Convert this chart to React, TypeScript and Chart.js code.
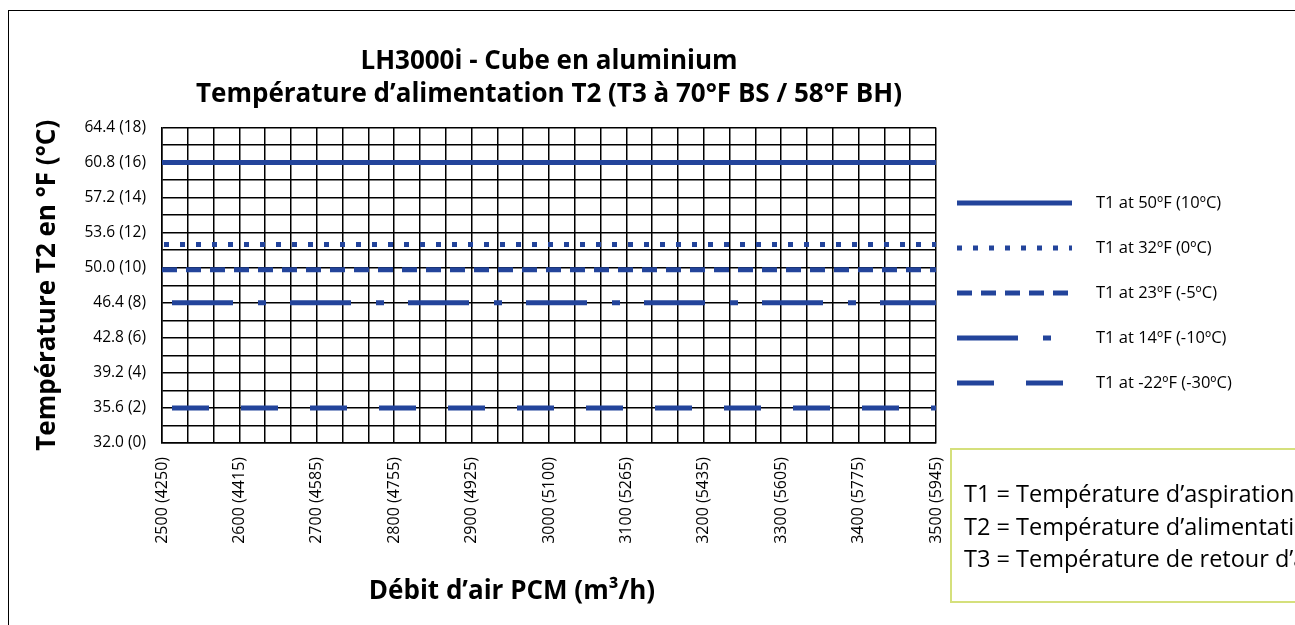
import React, { useEffect, useRef } from 'react';
import { Chart, registerables } from 'chart.js';

Chart.register(...registerables);

const FONT = "'Open Sans', 'Noto Sans', sans-serif";

// Airflow (CFM) categories and their m³/h tick labels
const airflowCfm = [2500, 2600, 2700, 2800, 2900, 3000, 3100, 3200, 3300, 3400, 3500];
const xTickLabels = [
  '2500 (4250)', '2600 (4415)', '2700 (4585)', '2800 (4755)', '2900 (4925)', '3000 (5100)',
  '3100 (5265)', '3200 (5435)', '3300 (5605)', '3400 (5775)', '3500 (5945)',
];

// Y axis ticks: °F (°C)
const yTickValues = [32.0, 35.6, 39.2, 42.8, 46.4, 50.0, 53.6, 57.2, 60.8, 64.4];
const yTickLabels = [
  '32.0 (0)', '35.6 (2)', '39.2 (4)', '42.8 (6)', '46.4 (8)',
  '50.0 (10)', '53.6 (12)', '57.2 (14)', '60.8 (16)', '64.4 (18)',
];

// Supply temperature T2 (°F) per airflow, for each T1
const t1At50F = [60.8, 60.8, 60.8, 60.8, 60.8, 60.8, 60.8, 60.8, 60.8, 60.8, 60.8];
const t1At32F = [52.4, 52.4, 52.4, 52.4, 52.4, 52.4, 52.4, 52.4, 52.4, 52.4, 52.4];
const t1At23F = [49.8, 49.8, 49.8, 49.8, 49.8, 49.8, 49.8, 49.8, 49.8, 49.8, 49.8];
const t1At14F = [46.4, 46.4, 46.4, 46.4, 46.4, 46.4, 46.4, 46.4, 46.4, 46.4, 46.4];
const t1AtMinus22F = [35.6, 35.6, 35.6, 35.6, 35.6, 35.6, 35.6, 35.6, 35.6, 35.6, 35.6];

const seriesLabels = [
  'T1 at 50ºF (10ºC)',
  'T1 at 32ºF (0ºC)',
  'T1 at 23ºF (-5ºC)',
  'T1 at 14ºF (-10ºC)',
  'T1 at -22ºF (-30ºC)',
];

const titleLines = ['LH3000i - Cube en aluminium', 'Température d’alimentation T2 (T3 à 70°F BS / 58°F BH)'];
const yAxisTitle = 'Température T2 en °F (°C)';
const xAxisTitle = 'Débit d’air PCM (m³/h)';
const noteLines = [
  'T1 = Température d’aspiration',
  'T2 = Température d’alimentation',
  'T3 = Température de retour d’air',
];

const LINE_COLOR = '#23449b';

const toPoints = (vals: number[]) => airflowCfm.map((x, i) => ({ x, y: vals[i] }));

const sideLegendPlugin = {
  id: 'sideLegendAndXTitle',
  afterDraw(chart: any) {
    const { ctx, chartArea } = chart;
    ctx.save();
    const x0 = chartArea.right + 21;
    const len = 115;
    const y0 = chartArea.top + 75.5;
    const dy = 45;
    chart.data.datasets.forEach((ds: any, i: number) => {
      const y = y0 + i * dy;
      ctx.beginPath();
      ctx.setLineDash(ds.borderDash || []);
      ctx.lineDashOffset = 0;
      ctx.lineWidth = ds.borderWidth;
      ctx.strokeStyle = ds.borderColor;
      ctx.lineCap = 'butt';
      ctx.moveTo(x0, y);
      ctx.lineTo(x0 + len, y);
      ctx.stroke();
      ctx.setLineDash([]);
      ctx.fillStyle = '#000';
      ctx.font = `16.5px ${FONT}`;
      ctx.textAlign = 'left';
      ctx.textBaseline = 'middle';
      ctx.fillText(ds.label, x0 + len + 24, y);
    });
    ctx.font = `bold 26px ${FONT}`;
    ctx.textAlign = 'center';
    ctx.textBaseline = 'middle';
    ctx.fillStyle = '#000';
    ctx.fillText(xAxisTitle, chartArea.left + 350, chartArea.bottom + 149);
    ctx.restore();
  },
};

export default function App() {
  const canvasRef = useRef<HTMLCanvasElement | null>(null);

  useEffect(() => {
    document.documentElement.style.overflow = 'hidden';
    const canvas = canvasRef.current;
    if (!canvas) return;
    Chart.defaults.color = '#000';
    Chart.defaults.font.family = FONT;

    const mk = (label: string, vals: number[], dash: number[], offset: number) => ({
      label,
      data: toPoints(vals),
      borderColor: LINE_COLOR,
      backgroundColor: LINE_COLOR,
      borderWidth: 5,
      borderDash: dash,
      borderDashOffset: offset,
      borderCapStyle: 'butt',
      pointRadius: 0,
      pointHoverRadius: 0,
      fill: false,
      tension: 0,
    });

    const chart = new Chart(canvas, {
      type: 'line',
      data: {
        datasets: [
          mk(seriesLabels[0], t1At50F, [], 0),
          mk(seriesLabels[1], t1At32F, [5, 11], 14),
          mk(seriesLabels[2], t1At23F, [15, 9], 0),
          mk(seriesLabels[3], t1At14F, [61, 25, 8, 24], 108),
          mk(seriesLabels[4], t1AtMinus22F, [37, 32], 59),
        ] as any,
      },
      options: {
        animation: false,
        responsive: true,
        maintainAspectRatio: false,
        devicePixelRatio: 1,
        layout: { padding: { left: 0, right: 373, top: 0, bottom: 18 } },
        plugins: {
          legend: { display: false },
          tooltip: { enabled: false },
          title: {
            display: true,
            text: titleLines,
            fullSize: false,
            color: '#000',
            font: { family: FONT, size: 26, weight: 'bold', lineHeight: 1.27 },
            padding: { top: 34, bottom: 16.5 },
          },
        },
        scales: {
          x: {
            type: 'linear',
            min: airflowCfm[0],
            max: airflowCfm[airflowCfm.length - 1],
            afterBuildTicks: (scale: any) => {
              const ticks: any[] = [];
              for (let i = 0; i < airflowCfm.length - 1; i++) {
                const a = airflowCfm[i];
                const d = airflowCfm[i + 1] - a;
                ticks.push({ value: a }, { value: a + d / 3 }, { value: a + (2 * d) / 3 });
              }
              ticks.push({ value: airflowCfm[airflowCfm.length - 1] });
              scale.ticks = ticks;
            },
            afterFit: (scale: any) => {
              scale.height = 170;
            },
            ticks: {
              autoSkip: false,
              minRotation: 90,
              maxRotation: 90,
              padding: 14,
              color: '#000',
              font: { family: FONT, size: 16 },
              callback: (value: any) => {
                const idx = airflowCfm.indexOf(value);
                return idx >= 0 ? xTickLabels[idx] : '';
              },
            },
            grid: { color: '#000', lineWidth: 1.5, drawTicks: false },
            border: { display: true, color: '#000', width: 1.5 },
          },
          y: {
            type: 'linear',
            min: yTickValues[0],
            max: yTickValues[yTickValues.length - 1],
            afterBuildTicks: (scale: any) => {
              const ticks: any[] = [];
              for (let i = 0; i < yTickValues.length - 1; i++) {
                const a = yTickValues[i];
                const b = yTickValues[i + 1];
                ticks.push({ value: a }, { value: (a + b) / 2 });
              }
              ticks.push({ value: yTickValues[yTickValues.length - 1] });
              scale.ticks = ticks;
            },
            afterFit: (scale: any) => {
              scale.width = 153;
            },
            ticks: {
              autoSkip: false,
              padding: 16,
              color: '#000',
              font: { family: FONT, size: 15.5 },
              callback: (value: any) => {
                const idx = yTickValues.findIndex((v) => Math.abs(v - value) < 1e-6);
                return idx >= 0 ? yTickLabels[idx] : '';
              },
            },
            grid: { color: '#000', lineWidth: 1.5, drawTicks: false },
            border: { display: true, color: '#000', width: 1.5 },
            title: {
              display: true,
              text: yAxisTitle,
              color: '#000',
              font: { family: FONT, size: 26, weight: 'bold', lineHeight: 1.2 },
              padding: { top: 23, bottom: 0 },
            },
          },
        },
      },
      plugins: [sideLegendPlugin],
    });

    return () => chart.destroy();
  }, []);

  return (
    <div
      style={{
        position: 'fixed',
        left: 8,
        top: 10,
        width: 1400,
        height: 700,
        borderTop: '1px solid #000',
        borderLeft: '1px solid #000',
        boxSizing: 'border-box',
      }}
    >
      <div style={{ position: 'absolute', left: 0, top: 0, width: 1300, height: 620 }}>
        <canvas ref={canvasRef} />
      </div>
      <div
        style={{
          position: 'absolute',
          left: 941,
          top: 437,
          width: 480,
          height: 155,
          border: '2px solid #d5e07c',
          boxSizing: 'border-box',
          fontFamily: FONT,
          fontSize: 23.5,
          lineHeight: '32.5px',
          color: '#000',
          padding: '27px 0 0 12px',
          whiteSpace: 'nowrap',
        }}
      >
        {noteLines.map((t) => (
          <div key={t}>{t}</div>
        ))}
      </div>
    </div>
  );
}
